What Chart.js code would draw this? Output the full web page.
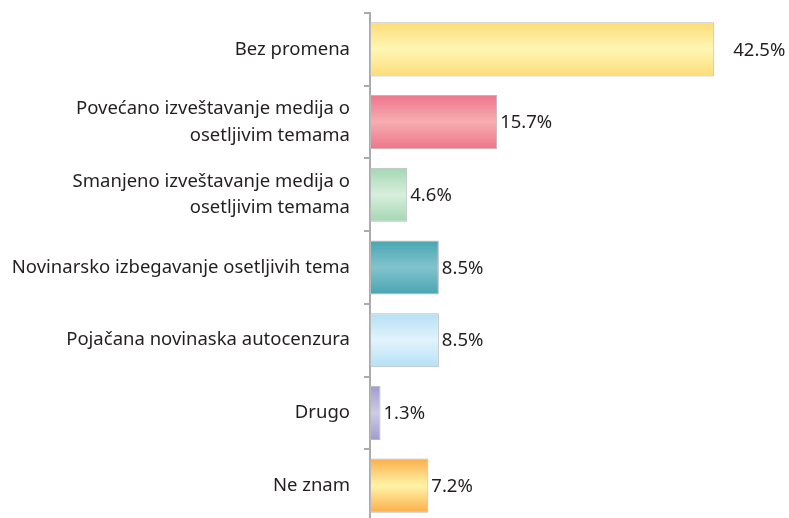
<!DOCTYPE html>
<html>
<head>
<meta charset="utf-8">
<script src="https://cdn.jsdelivr.net/npm/chart.js@4"></script>
<style>
html,body{margin:0;padding:0;background:#fff;overflow:hidden;}
#wrap{width:789px;height:522px;position:relative;}
</style>
</head>
<body>
<div id="wrap"><canvas id="c"></canvas></div>
<script>
const categories = [
  ["Bez promena"],
  ["Povećano izveštavanje medija o", "osetljivim temama"],
  ["Smanjeno izveštavanje medija o", "osetljivim temama"],
  ["Novinarsko izbegavanje osetljivih tema"],
  ["Pojačana novinaska autocenzura"],
  ["Drugo"],
  ["Ne znam"]
];
const values = [42.5, 15.7, 4.6, 8.5, 8.5, 1.3, 7.2];
const valueLabels = ["42.5%", "15.7%", "4.6%", "8.5%", "8.5%", "1.3%", "7.2%"];

const edgeColors = ["#fcdc78", "#ee7589", "#a3d7b2", "#48a5b1", "#b5e0f6", "#9f9ccf", "#fbae4a"];
const midColors  = ["#fff6b4", "#f6adb1", "#d8eedc", "#82c3cd", "#e2f3fc", "#cdcbe6", "#fff4a6"];

const FONT = "'Noto Sans', sans-serif";
const TEXT = "#231f20";

const gradientPlugin = {
  id: 'grad',
  beforeDatasetsDraw(chart) {
    const ctx = chart.ctx;
    const meta = chart.getDatasetMeta(0);
    meta.data.forEach((bar, i) => {
      const top = bar.y - bar.height / 2;
      const bot = bar.y + bar.height / 2;
      const g = ctx.createLinearGradient(0, top, 0, bot);
      g.addColorStop(0, edgeColors[i]);
      g.addColorStop(0.5, midColors[i]);
      g.addColorStop(1, edgeColors[i]);
      bar.options.backgroundColor = g;
    });
  }
};

const labelPlugin = {
  id: 'vlabels',
  afterDatasetsDraw(chart) {
    const ctx = chart.ctx;
    const meta = chart.getDatasetMeta(0);
    ctx.save();
    ctx.font = "18.5px " + FONT;
    ctx.fillStyle = TEXT;
    ctx.textBaseline = 'middle';
    ctx.textAlign = 'left';
    meta.data.forEach((bar, i) => {
      const off = i === 0 ? 19 : 3;
      ctx.fillText(valueLabels[i], bar.x + off, bar.y + 1);
    });
    ctx.restore();
  }
};

new Chart(document.getElementById('c'), {
  type: 'bar',
  data: {
    labels: categories,
    datasets: [{
      data: values,
      backgroundColor: edgeColors,
      borderColor: "#b9b9b9",
      borderWidth: 1,
      borderSkipped: false,
      categoryPercentage: 1,
      barPercentage: 0.745
    }]
  },
  options: {
    indexAxis: 'y',
    responsive: true,
    maintainAspectRatio: false,
    animation: false,
    layout: { padding: { top: 13, right: 14, bottom: 0, left: 0 } },
    plugins: { legend: { display: false }, tooltip: { enabled: false } },
    scales: {
      x: { display: false, min: 0, max: 50 },
      y: {
        afterFit(scale) { scale.width = 370; scale.paddingTop = 0; scale.paddingBottom = 0; },
        border: { display: true, color: "#a9abae", width: 2 },
        grid: { display: true, drawOnChartArea: false, drawTicks: true, tickLength: 6, color: "#a9abae", lineWidth: 2, offset: true },
        ticks: {
          color: TEXT,
          padding: 14,
          font: { family: FONT, size: 18.5, lineHeight: 1.45 }
        }
      }
    }
  },
  plugins: [gradientPlugin, labelPlugin]
});
</script>
</body>
</html>
